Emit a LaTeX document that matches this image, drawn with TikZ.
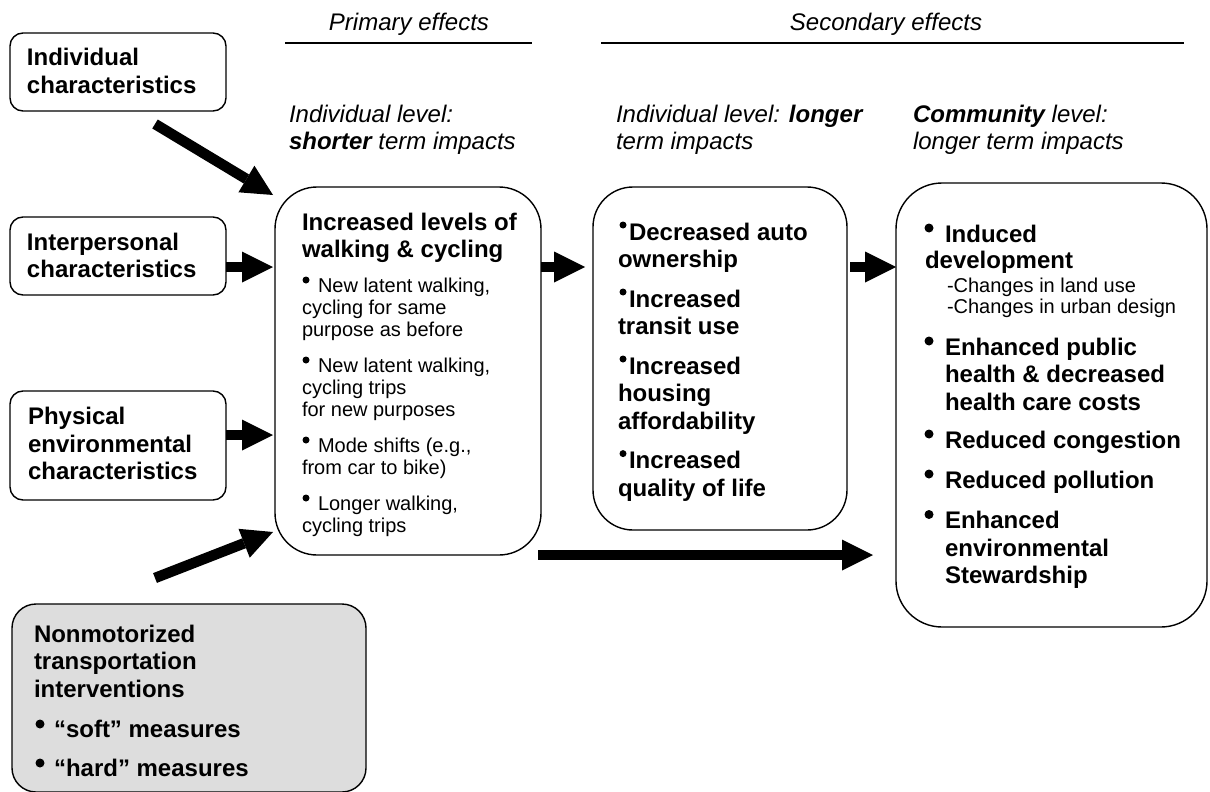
\documentclass[tikz,border=0pt]{standalone}
\usepackage{fontspec}
\setmainfont{Liberation Sans}
\usetikzlibrary{arrows.meta}
\definecolor{boxgray}{RGB}{221,221,221}
\newcommand\bigtxt{\fontsize{24}{27.6}\selectfont}
\newcommand\smtxt{\fontsize{20}{23}\selectfont}
\newcommand\bdot[2]{\tikz[baseline=0pt]\fill[black] (0pt,#2) circle[radius=#1];}
\begin{document}
\begin{tikzpicture}[x=1pt,y=-1pt,
  box/.style={draw=black, line width=1.4pt, inner sep=0pt, outer sep=0pt},
  lbox/.style={box, rounded corners=13pt, minimum width=216pt},
  txt/.style={anchor=base west, inner sep=0pt, outer sep=0pt, font=\bigtxt\bfseries},
  stxt/.style={anchor=base west, inner sep=0pt, outer sep=0pt, font=\smtxt},
  htxt/.style={anchor=base west, inner sep=0pt, outer sep=0pt, font=\bigtxt\itshape},
  rulestyle/.style={line width=1.5pt},
  blk/.style={line width=10.5pt, -{Triangle[length=31pt,width=31pt,line width=0pt]}}
]
\useasboundingbox (0,0) rectangle (1210,792);

% ---------- boxes ----------
\node[lbox, minimum height=78pt] (indiv) at (118,72) {};
\node[lbox, minimum height=78pt] (inter) at (118,256) {};
\node[lbox, minimum height=109pt] (phys) at (118,445.5) {};
\node[box, rounded corners=24pt, fill=boxgray, minimum width=354pt, minimum height=188pt] (nonmot) at (189,698) {};
\node[box, rounded corners=42pt, minimum width=266pt, minimum height=368pt] (mainbox) at (408,371) {};
\node[box, rounded corners=40pt, minimum width=254pt, minimum height=343pt] (second) at (720,358.5) {};
\node[box, rounded corners=46pt, minimum width=311pt, minimum height=444pt] (third) at (1051.5,405) {};

% ---------- headers ----------
\node[anchor=base, inner sep=0pt, font=\bigtxt\itshape] (prim) at (409,31) {Primary effects};
\node[anchor=base, inner sep=0pt, font=\bigtxt\itshape] (secd) at (886,31) {Secondary effects};
\draw[rulestyle] (285,43) -- (532,43);
\draw[rulestyle] (601,43) -- (1184,43);

\node[htxt] (h1a) at (289,122) {Individual level:};
\node[htxt] (h1b) at (289,149.6) {\textbf{shorter} term impacts};
\node[htxt] (h2a) at (616,122) {Individual level: \textbf{longer}};
\node[htxt] (h2b) at (616,149.6) {term impacts};
\node[htxt] (h3a) at (913,122) {\textbf{Community} level:};
\node[htxt] (h3b) at (913,149.6) {longer term impacts};

% ---------- left boxes text ----------
\node[txt] (indiv1) at (27,66) {Individual};
\node[txt] (indiv2) at (27,93.6) {characteristics};
\node[txt] (inter1) at (27,250) {Interpersonal};
\node[txt] (inter2) at (27,277.6) {characteristics};
\node[txt] (phys1) at (28,424.5) {Physical};
\node[txt] (phys2) at (28,452.1) {environmental};
\node[txt] (phys3) at (28,479.7) {characteristics};
\node[txt] (nm1) at (34,642) {Nonmotorized};
\node[txt] (nm2) at (34,669.6) {transportation};
\node[txt] (nm3) at (34,697.2) {interventions};
\node[txt] (nm4) at (35.5,737) {\bdot{4.5pt}{13pt}\hspace{9.5pt}“soft” measures};
\node[txt] (nm5) at (35.5,776) {\bdot{4.5pt}{13pt}\hspace{9.5pt}“hard” measures};

% ---------- main box text ----------
\node[txt] (m1) at (302,230) {Increased levels of};
\node[txt] (m2) at (302,257.6) {walking \& cycling};
\node[stxt] (m3) at (302.5,292) {\bdot{3.5pt}{12pt}\hspace{8.5pt}New latent walking,};
\node[stxt] (m4) at (302,314) {cycling for same};
\node[stxt] (m5) at (302,336) {purpose as before};
\node[stxt] (m6) at (302.5,372) {\bdot{3.5pt}{12pt}\hspace{8.5pt}New latent walking,};
\node[stxt] (m7) at (302,394) {cycling trips};
\node[stxt] (m8) at (302,416) {for new purposes};
\node[stxt] (m9) at (302.5,452) {\bdot{3.5pt}{12pt}\hspace{8.5pt}Mode shifts (e.g.,};
\node[stxt] (m10) at (302,474) {from car to bike)};
\node[stxt] (m11) at (302.5,510) {\bdot{3.5pt}{12pt}\hspace{8.5pt}Longer walking,};
\node[stxt] (m12) at (302,532) {cycling trips};

% ---------- second box text ----------
\node[txt] (s1) at (619.5,240) {\bdot{3.5pt}{15pt}\hspace{2.5pt}Decreased auto};
\node[txt] (s2) at (618,267.6) {ownership};
\node[txt] (s3) at (619.5,307) {\bdot{3.5pt}{15pt}\hspace{2.5pt}Increased};
\node[txt] (s4) at (618,334.6) {transit use};
\node[txt] (s5) at (619.5,374) {\bdot{3.5pt}{15pt}\hspace{2.5pt}Increased};
\node[txt] (s6) at (618,401.6) {housing};
\node[txt] (s7) at (618,429.2) {affordability};
\node[txt] (s8) at (619.5,468.6) {\bdot{3.5pt}{15pt}\hspace{2.5pt}Increased};
\node[txt] (s9) at (618,496.2) {quality of life};

% ---------- third box text ----------
\node[txt] (c1) at (924.5,242) {\bdot{4.5pt}{14pt}\hspace{11.5pt}Induced};
\node[txt] (c2) at (925,268.5) {development};
\node[stxt] (c3) at (947,292) {-Changes in land use};
\node[stxt] (c4) at (947,313.5) {-Changes in urban design};
\node[txt] (c5) at (924.5,355) {\bdot{4.5pt}{14pt}\hspace{11.5pt}Enhanced public};
\node[txt] (c6) at (945,382.6) {health \& decreased};
\node[txt] (c7) at (945,410.2) {health care costs};
\node[txt] (c8) at (924.5,448) {\bdot{4.5pt}{14pt}\hspace{11.5pt}Reduced congestion};
\node[txt] (c9) at (924.5,488) {\bdot{4.5pt}{14pt}\hspace{11.5pt}Reduced pollution};
\node[txt] (c10) at (924.5,528.5) {\bdot{4.5pt}{14pt}\hspace{11.5pt}Enhanced};
\node[txt] (c11) at (945,556.1) {environmental};
\node[txt] (c12) at (945,583.7) {Stewardship};

% ---------- block arrows ----------
\draw[blk] ([shift={(37pt,-13pt)}]indiv.south) -- ([shift={(-2pt,-8pt)}]mainbox.north west);
\draw[blk] ([shift={(0pt,-11pt)}]inter.east) -- ([shift={(-2pt,104pt)}]mainbox.west);
\draw[blk] ([shift={(0pt,10.5pt)}]phys.east) -- ([shift={(-2pt,-64pt)}]mainbox.west);
\draw[blk] ([shift={(-34pt,26pt)}]nonmot.north) -- ([shift={(-2pt,23pt)}]mainbox.south west);
\draw[blk] ([shift={(0pt,104pt)}]mainbox.east) -- ([shift={(-8pt,91.5pt)}]second.west);
\draw[blk] ([shift={(3pt,91.5pt)}]second.east) -- ([shift={(0pt,138pt)}]third.west);
\draw[blk] ([shift={(-3pt,0pt)}]mainbox.south east) -- ([shift={(-23pt,-150pt)}]third.west);
\end{tikzpicture}
\end{document}
